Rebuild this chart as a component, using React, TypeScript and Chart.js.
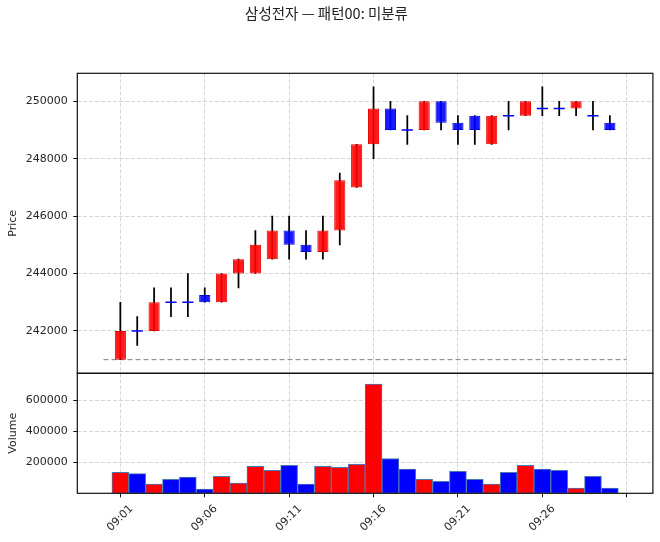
import React, { useEffect, useRef } from "react";
import { Chart, registerables } from "chart.js";

Chart.register(...registerables);

// ---- data ----
const titleText = "삼성전자 — 패턴00: 미분류";
const times = [
  "09:01", "09:02", "09:03", "09:04", "09:05", "09:06", "09:07", "09:08", "09:09", "09:10",
  "09:11", "09:12", "09:13", "09:14", "09:15", "09:16", "09:17", "09:18", "09:19", "09:20",
  "09:21", "09:22", "09:23", "09:24", "09:25", "09:26", "09:27", "09:28", "09:29", "09:30",
];
const opens = [
  241000, 242000, 242000, 243000, 243000, 243250, 243000, 244000, 244000, 244500,
  245500, 245000, 244750, 245500, 247000, 248500, 249750, 249000, 249000, 250000,
  249250, 249500, 248500, 249500, 249500, 249750, 249750, 249750, 249500, 249250,
];
const highs = [
  243000, 242500, 243500, 243500, 244000, 243500, 244000, 244500, 245500, 246000,
  246000, 245500, 246000, 247500, 248500, 250500, 250000, 249500, 250000, 250000,
  249500, 249500, 249500, 250000, 250000, 250500, 250000, 250000, 250000, 249500,
];
const lows = [
  241000, 241500, 242000, 242500, 242500, 243000, 243000, 243500, 244000, 244500,
  244500, 244500, 244500, 245000, 247000, 248000, 249000, 248500, 249000, 249000,
  248500, 248500, 248500, 249000, 249500, 249500, 249500, 249500, 249000, 249000,
];
const closes = [
  242000, 242000, 243000, 243000, 243000, 243000, 244000, 244500, 245000, 245500,
  245000, 244750, 245500, 247250, 248500, 249750, 249000, 249000, 250000, 249250,
  249000, 249000, 249500, 249500, 250000, 249750, 249750, 250000, 249500, 249000,
];
const volumes = [
  135000, 127000, 59000, 91000, 104000, 27000, 110000, 66000, 174000, 149000,
  181000, 59000, 174000, 168000, 187000, 705000, 225000, 157000, 91000, 78000,
  142000, 91000, 59000, 136000, 181000, 157000, 149000, 34000, 110000, 34000,
];
const baselineTimes = ["09:00", "09:31"];
const baselinePrices = [241000, 241000];
const xTickTimes = ["09:01", "09:06", "09:11", "09:16", "09:21", "09:26", "09:31"];
const xTickLabels = ["09:01", "09:06", "09:11", "09:16", "09:21", "09:26", ""];
const priceTicks = [242000, 244000, 246000, 248000, 250000];
const volumeTicks = [200000, 400000, 600000];
const priceRange = [240525, 250975];
const volumeRange = [0, 775000];
const timeRange = [-1.55, 32.55]; // minutes after 09:00

// ---- helpers ----
const toMin = (t: string) => {
  const [h, m] = t.split(":").map(Number);
  return (h - 9) * 60 + m;
};
const UP_FILL = "rgba(255,0,0,0.9)";
const DOWN_FILL = "rgba(0,0,255,0.9)";
const UP_EDGE = "#e60000";
const DOWN_EDGE = "#0000d9";
const FONT = "'DejaVu Sans', sans-serif";
const TEXT = "#262626";

const xs = times.map(toMin);
const isUp = closes.map((c, i) => c > opens[i]);

export default function App() {
  const ref = useRef<HTMLCanvasElement | null>(null);

  useEffect(() => {
    if (!ref.current) return;

    const bodies = xs
      .map((x, i) => (opens[i] !== closes[i] ? { x, y: [opens[i], closes[i]] } : null))
      .filter(Boolean) as any[];
    const bodyColors = xs
      .map((_, i) => (opens[i] !== closes[i] ? i : -1))
      .filter((i) => i >= 0);
    const dojis = xs
      .map((x, i) => (opens[i] === closes[i] ? { x, y: closes[i] } : null))
      .filter(Boolean) as any[];

    const framePlugin = {
      id: "frame",
      afterDraw(chart: any) {
        const { ctx, chartArea } = chart;
        ctx.save();
        ctx.strokeStyle = "#111";
        ctx.lineWidth = 1.2;
        for (const id of ["y", "yv"]) {
          const s = chart.scales[id];
          ctx.strokeRect(chartArea.left, s.top, chartArea.right - chartArea.left, s.bottom - s.top);
        }
        ctx.restore();
      },
    };

    const tickFont = { family: FONT, size: 11 };
    const gridCommon = {
      color: "#d6d6d6",
      lineWidth: 1,
      tickColor: "#111",
      tickLength: 4,
      tickWidth: 1,
      tickBorderDash: [],
      offset: false,
    };
    const plainNumber = (v: any) => String(v);

    const chart = new Chart(ref.current, {
      type: "bar",
      data: {
        datasets: [
          {
            type: "bar",
            label: "volume",
            data: xs.map((x, i) => ({ x, y: volumes[i] })),
            xAxisID: "x",
            yAxisID: "yv",
            backgroundColor: xs.map((_, i) => (isUp[i] ? "#ff0000" : "#0000ff")),
            borderColor: "#4a78b0",
            borderWidth: 1,
            borderSkipped: false,
            grouped: false,
            categoryPercentage: 1,
            barPercentage: 1,
            order: 5,
          } as any,
          {
            type: "line",
            label: "baseline",
            data: baselineTimes.map((t, i) => ({ x: toMin(t), y: baselinePrices[i] })),
            xAxisID: "x",
            yAxisID: "y",
            borderColor: "#808080",
            borderWidth: 1,
            borderDash: [5, 3],
            pointRadius: 0,
            fill: false,
            order: 4,
          } as any,
          {
            type: "bar",
            label: "wick",
            data: xs.map((x, i) => ({ x, y: [lows[i], highs[i]] })),
            xAxisID: "x",
            yAxisID: "y",
            backgroundColor: "#000",
            borderWidth: 0,
            barThickness: 1.1,
            grouped: false,
            order: 3,
          } as any,
          {
            type: "bar",
            label: "body",
            data: bodies,
            xAxisID: "x",
            yAxisID: "y",
            backgroundColor: bodyColors.map((i) => (isUp[i] ? UP_FILL : DOWN_FILL)),
            borderColor: bodyColors.map((i) => (isUp[i] ? UP_EDGE : DOWN_EDGE)),
            borderWidth: 1,
            borderSkipped: false,
            grouped: false,
            categoryPercentage: 1,
            barPercentage: 0.66,
            order: 2,
          } as any,
          {
            type: "scatter",
            label: "doji",
            data: dojis,
            xAxisID: "x",
            yAxisID: "y",
            pointStyle: "line",
            pointRadius: 5.6,
            pointBorderWidth: 1.5,
            pointBorderColor: "#0000ff",
            pointBackgroundColor: "#0000ff",
            order: 1,
          } as any,
        ],
      },
      options: {
        animation: false,
        responsive: false,
        maintainAspectRatio: false,
        events: [],
        layout: { padding: { left: 0, right: 7, top: 0, bottom: 0 } },
        plugins: {
          legend: { display: false },
          tooltip: { enabled: false },
          title: {
            display: true,
            text: titleText,
            color: "#222",
            font: { family: "'Noto Sans CJK KR', sans-serif", size: 14.5, weight: "normal", lineHeight: 1.2 },
            padding: { top: 4.3, bottom: 51.6 },
          },
        },
        scales: {
          x: {
            type: "linear",
            position: "bottom",
            min: timeRange[0],
            max: timeRange[1],
            offset: false,
            grid: gridCommon,
            border: { display: false, dash: [4, 2] },
            ticks: {
              autoSkip: false,
              maxRotation: 45,
              minRotation: 45,
              padding: 5,
              labelOffset: 11,
              font: tickFont,
              color: TEXT,
              callback: (v: any) => {
                const idx = xTickTimes.map(toMin).indexOf(Number(v));
                return idx >= 0 ? xTickLabels[idx] : "";
              },
            },
            afterBuildTicks: (s: any) => {
              s.ticks = xTickTimes.map((t) => ({ value: toMin(t) }));
            },
            afterFit: (s: any) => {
              s.height = 48.7;
            },
          },
          yv: {
            type: "linear",
            position: "left",
            stack: "panes",
            stackWeight: 1,
            min: volumeRange[0],
            max: volumeRange[1],
            grid: gridCommon,
            border: { display: false, dash: [4, 2] },
            ticks: { font: tickFont, color: TEXT, padding: 5.5, callback: plainNumber },
            title: {
              display: true,
              text: "Volume",
              color: TEXT,
              font: { family: FONT, size: 11, lineHeight: 1.2 },
              padding: { top: 6.4, bottom: 0 },
            },
            afterBuildTicks: (s: any) => {
              s.ticks = volumeTicks.map((v) => ({ value: v }));
            },
            afterFit: (s: any) => {
              s.width = 77.3;
            },
          },
          y: {
            type: "linear",
            position: "left",
            stack: "panes",
            stackWeight: 2.5,
            min: priceRange[0],
            max: priceRange[1],
            grid: gridCommon,
            border: { display: false, dash: [4, 2] },
            ticks: { font: tickFont, color: TEXT, padding: 5.5, callback: plainNumber },
            title: {
              display: true,
              text: "Price",
              color: TEXT,
              font: { family: FONT, size: 11, lineHeight: 1.2 },
              padding: { top: 6.4, bottom: 0 },
            },
            afterBuildTicks: (s: any) => {
              s.ticks = priceTicks.map((v) => ({ value: v }));
            },
            afterFit: (s: any) => {
              s.width = 77.3;
            },
          },
        } as any,
      },
      plugins: [framePlugin],
    });

    return () => chart.destroy();
  }, []);

  return (
    <div style={{ position: "absolute", left: 0, top: 0, width: 660, height: 542, background: "#fff" }}>
      <canvas ref={ref} width={660} height={542} style={{ width: 660, height: 542, display: "block" }} />
    </div>
  );
}
